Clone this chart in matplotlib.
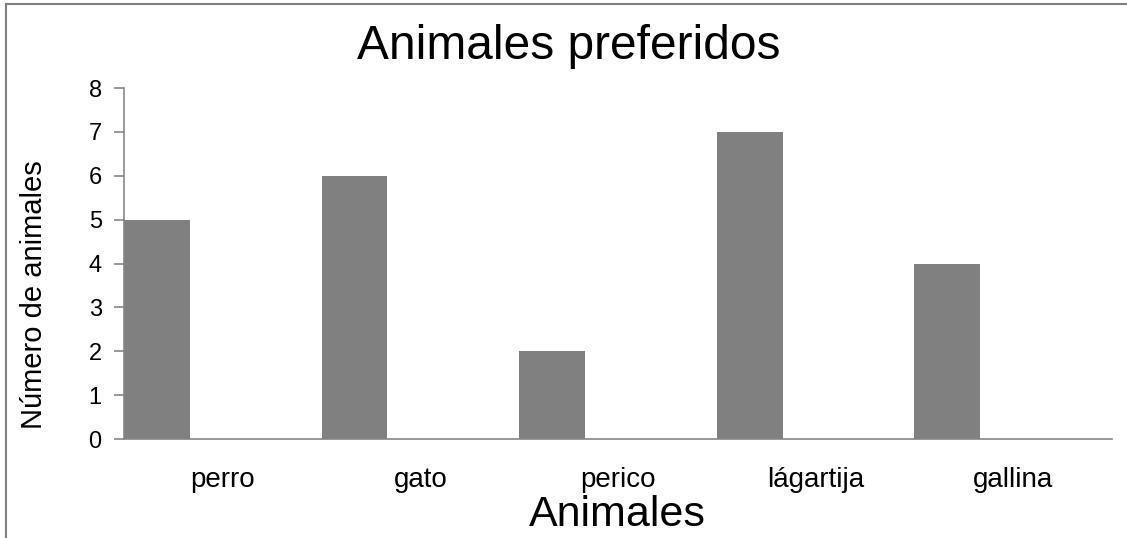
import matplotlib.pyplot as plt
from matplotlib.lines import Line2D
import numpy as np

plt.rcParams['font.family'] = ['Liberation Sans', 'DejaVu Sans']

animales = ['perro', 'gato', 'perico', 'lágartija', 'gallina']
cantidad = [5, 6, 2, 7, 4]

fig = plt.figure(figsize=(11.27, 5.38), dpi=100)
ax = fig.add_axes([0.110, 0.184, 0.8767, 0.6524])

x = np.arange(len(animales))
# bars sit in the left third of each category slot
ax.bar(x - 0.5 + 1/6, cantidad, width=1/3, color='#808080', zorder=2)

ax.set_xlim(-0.5, len(animales) - 0.5)
ax.set_ylim(0, 8)
ax.set_yticks(range(0, 9))
ax.set_xticks(x)
ax.set_xticklabels(animales, fontsize=20)
ax.tick_params(axis='y', labelsize=17, length=7, color='#868686', width=1.2, pad=9)
ax.tick_params(axis='x', length=0, pad=20)

for s in ['top', 'right']:
    ax.spines[s].set_visible(False)
for s in ['left', 'bottom']:
    ax.spines[s].set_color('#868686')
    ax.spines[s].set_linewidth(1.2)

fig.text(0.505, 0.913, 'Animales preferidos', fontsize=34.5, ha='center', va='center')
fig.text(0.548, 0.043, 'Animales', fontsize=31, ha='center', va='center')
fig.text(0.030, 0.452, 'Número de animales', fontsize=21, rotation=90,
         ha='center', va='center')

# chart border (top and left edges)
fig.add_artist(Line2D([6/1127, 1], [1 - 4/538, 1 - 4/538], color='#808080', lw=1.5))
fig.add_artist(Line2D([6/1127, 6/1127], [0, 1 - 4/538], color='#808080', lw=1.5))

fig.savefig('out.png', dpi=100)
